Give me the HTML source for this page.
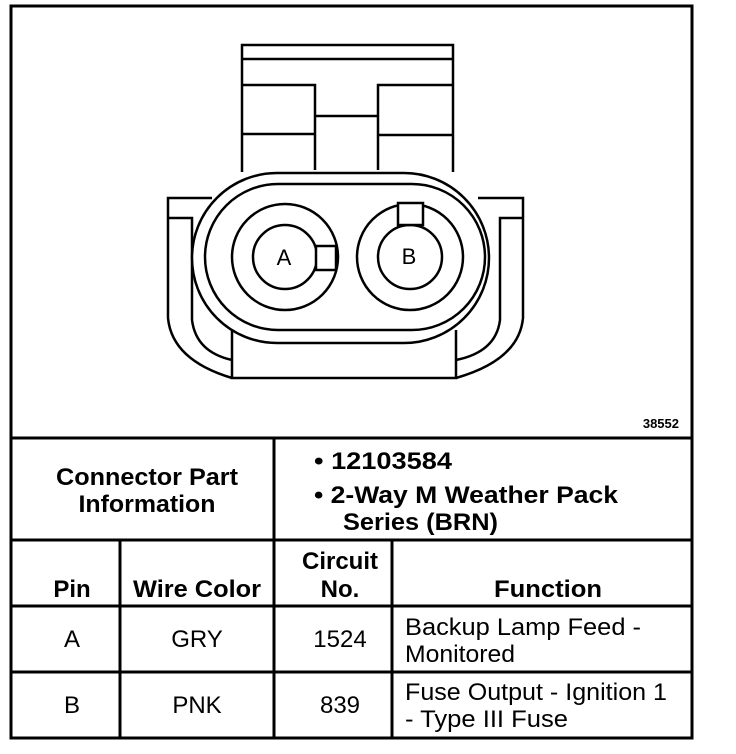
<!DOCTYPE html>
<html><head><style>body{margin:0;background:#fff}svg{display:block}</style></head><body>
<svg width="736" height="754" viewBox="0 0 736 754" xmlns="http://www.w3.org/2000/svg" font-family="Liberation Sans, Arial, sans-serif">
<rect width="736" height="754" fill="#fff"/>
<g fill="none" stroke="#000" stroke-width="3">
<rect x="11" y="6" width="681" height="732"/>
<line x1="11" y1="438" x2="692" y2="438"/>
<line x1="11" y1="540" x2="692" y2="540"/>
<line x1="11" y1="606" x2="692" y2="606"/>
<line x1="11" y1="672" x2="692" y2="672"/>
<line x1="274" y1="438" x2="274" y2="738"/>
<line x1="120" y1="540" x2="120" y2="738"/>
<line x1="392" y1="540" x2="392" y2="738"/>
</g>
<g fill="none" stroke="#000" stroke-width="2.5">
<polyline points="242,172 242,45 453,45 453,172"/>
<line x1="242" y1="59" x2="453" y2="59"/>
<polyline points="242,85 315,85 315,170"/>
<line x1="242" y1="134" x2="315" y2="134"/>
<polyline points="453,85 378,85 378,170"/>
<line x1="453" y1="135" x2="378" y2="135"/>
<line x1="315" y1="116" x2="378" y2="116"/>
<path d="M212,198 H168 V318 Q172,360 232,378"/>
<path d="M168,218 H192 V320 Q196,352 232,360"/>
<path d="M478,198 H523 V318 Q519,360 456,378"/>
<path d="M523,218 H500 V320 Q496,352 456,360"/>
<polyline points="232,330 232,378 456,378 456,330"/>
<rect x="192" y="173" width="297" height="170" rx="85" ry="85" fill="#fff"/>
<rect x="205" y="184" width="280" height="146" rx="73" ry="73"/>
<circle cx="285" cy="257" r="53"/>
<circle cx="285" cy="257" r="32"/>
<rect x="316" y="246" width="20" height="24" fill="#fff"/>
<circle cx="410" cy="257" r="53"/>
<circle cx="410" cy="257" r="32"/>
<rect x="398" y="203" width="25" height="22" fill="#fff"/>
</g>
<g fill="#000">
<text x="284" y="265" font-size="22" text-anchor="middle">A</text>
<text x="409" y="264" font-size="22" text-anchor="middle">B</text>
<text x="679" y="428" font-size="13" font-weight="bold" text-anchor="end">38552</text>
<g font-size="24" font-weight="bold">
<text x="147" y="485" text-anchor="middle" textLength="182" lengthAdjust="spacingAndGlyphs">Connector Part</text>
<text x="147" y="512" text-anchor="middle" textLength="137" lengthAdjust="spacingAndGlyphs">Information</text>
<text x="314" y="469" textLength="138" lengthAdjust="spacingAndGlyphs">•  12103584</text>
<text x="314" y="503" textLength="304" lengthAdjust="spacingAndGlyphs">•  2-Way M Weather Pack</text>
<text x="343" y="530" textLength="155" lengthAdjust="spacingAndGlyphs">Series (BRN)</text>
<text x="72" y="597" text-anchor="middle">Pin</text>
<text x="197" y="597" text-anchor="middle" textLength="128" lengthAdjust="spacingAndGlyphs">Wire Color</text>
<text x="340" y="569" text-anchor="middle">Circuit</text>
<text x="340" y="597" text-anchor="middle">No.</text>
<text x="548" y="597" text-anchor="middle" textLength="108" lengthAdjust="spacingAndGlyphs">Function</text>
</g>
<g font-size="24">
<text x="72" y="647" text-anchor="middle">A</text>
<text x="197" y="647" text-anchor="middle">GRY</text>
<text x="340" y="647" text-anchor="middle">1524</text>
<text x="405" y="635" textLength="236" lengthAdjust="spacingAndGlyphs">Backup Lamp Feed -</text>
<text x="405" y="662" textLength="110" lengthAdjust="spacingAndGlyphs">Monitored</text>
<text x="72" y="713" text-anchor="middle">B</text>
<text x="197" y="713" text-anchor="middle">PNK</text>
<text x="340" y="713" text-anchor="middle">839</text>
<text x="405" y="700" textLength="262" lengthAdjust="spacingAndGlyphs">Fuse Output - Ignition 1</text>
<text x="405" y="727" textLength="163" lengthAdjust="spacingAndGlyphs">- Type III Fuse</text>
</g>
</g>
</svg>
</body></html>
